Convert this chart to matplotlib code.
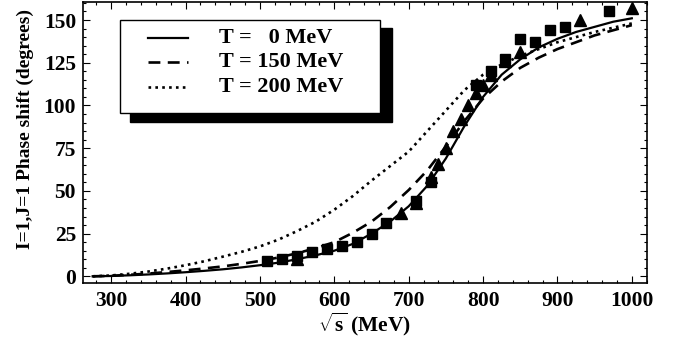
import matplotlib
matplotlib.use("Agg")
import matplotlib.pyplot as plt
from matplotlib.patches import Rectangle
from matplotlib.ticker import MultipleLocator

plt.rcParams["font.family"] = ["Liberation Serif", "DejaVu Serif"]
plt.rcParams["font.weight"] = "bold"
plt.rcParams["mathtext.fontset"] = "custom"
plt.rcParams["mathtext.rm"] = "Liberation Serif:bold"
plt.rcParams["mathtext.it"] = "Liberation Serif:bold"
plt.rcParams["mathtext.bf"] = "Liberation Serif:bold"

# theory curves (sqrt(s) in MeV, phase shift in degrees)
energy = [275, 300, 325, 350, 375, 400, 425, 450, 475, 500, 525, 550, 575, 600, 625,
          650, 675, 700, 725, 750, 775, 800, 825, 850, 875, 900, 925, 950, 975, 1000]
delta_t0 = [0, 0.2, 0.6, 1.1, 1.7, 2.4, 3.2, 4.1, 5.2, 6.5, 8, 10, 12.3, 15, 19,
            25, 32, 41, 53, 69, 88, 105, 118, 127, 134, 139, 143, 146, 149, 151]
delta_t150 = [0, 0.3, 0.9, 1.6, 2.5, 3.5, 4.6, 5.8, 7.3, 9, 11, 13.5, 16.5, 20, 25.5,
              32, 40.5, 50.5, 62, 76, 91, 104, 114, 122, 128, 133, 137, 141, 144, 147]
delta_t200 = [0, 0.5, 1.5, 2.8, 4.5, 6.5, 8.8, 11.5, 14.3, 17.5, 21.5, 26.5, 32, 39, 47,
              56, 64.5, 73, 85, 97, 109, 118, 124, 129, 133, 137, 140, 143, 145.5, 148]

# experimental points
sq_x = [510, 530, 550, 570, 590, 610, 630, 650, 670, 710, 730, 790, 810, 830,
        850, 870, 890, 910, 970]
sq_y = [9, 10, 12, 14, 16, 18, 20, 25, 31, 44, 55, 112, 120, 127,
        139, 137, 144, 146, 155]
tri_x = [550, 690, 710, 730, 740, 750, 760, 770, 780, 790, 800, 810, 830, 850,
         930, 1000]
tri_y = [10, 37, 43, 58, 66, 75, 85, 92, 100, 107, 112, 118, 126, 131,
         150, 157]

legend_labels = ["T =   0 MeV", "T = 150 MeV", "T = 200 MeV"]

fig = plt.figure(figsize=(6.8, 3.47), dpi=100)
ax = fig.add_axes([0.122, 0.184, 0.829, 0.81])

styles = [("-", 1.6), ((0, (4.5, 2.8)), 1.9), ((0, (1, 1.6)), 1.9)]
curves = [delta_t0, delta_t150, delta_t200]
for yv, (ls, lw) in zip(curves, styles):
    ax.plot(energy, yv, color="black", lw=lw, ls=ls)
ax.plot(sq_x, sq_y, "s", color="black", ms=7.5, zorder=3)
ax.plot(tri_x, tri_y, "^", color="black", ms=9, zorder=3)

ax.set_xlim(262, 1020)
ax.set_ylim(-4, 160.5)
ax.xaxis.set_major_locator(MultipleLocator(100))
ax.xaxis.set_minor_locator(MultipleLocator(20))
ax.yaxis.set_major_locator(MultipleLocator(25))
ax.yaxis.set_minor_locator(MultipleLocator(5))
ax.tick_params(which="both", direction="in", top=True, right=True, width=0.8)
ax.tick_params(which="major", length=5, labelsize=15.5)
ax.tick_params(which="minor", length=2.5)
ax.tick_params(axis="x", pad=6)
ax.tick_params(axis="y", pad=5)
for s in ax.spines.values():
    s.set_linewidth(1.2)
for lab in ax.get_xticklabels() + ax.get_yticklabels():
    lab.set_fontweight("bold")

ax.set_xlabel(r"$\sqrt{\mathrm{s}}$ (MeV)", fontsize=15.5, fontweight="bold")
ax.set_ylabel("I=1,J=1 Phase shift (degrees)", fontsize=14, fontweight="bold")
ax.xaxis.set_label_coords(0.5, -0.145)
ax.xaxis.label.set_verticalalignment("center")
ax.yaxis.set_label_coords(-0.103, 0.55)
ax.yaxis.label.set_verticalalignment("center")

# legend box with solid offset shadow
ax.add_patch(Rectangle((0.083, 0.573), 0.465, 0.334, transform=ax.transAxes,
                       facecolor="black", edgecolor="black", zorder=4))
ax.add_patch(Rectangle((0.066, 0.605), 0.461, 0.331, transform=ax.transAxes,
                       facecolor="white", edgecolor="black", lw=1.0, zorder=5))
rows = [0.872, 0.786, 0.698]
for (ls, lw), lab, yy in zip(styles, legend_labels, rows):
    ax.plot([0.115, 0.186], [yy, yy], transform=ax.transAxes, color="black",
            lw=lw, ls=ls, zorder=6)
    ax.text(0.241, yy, lab, transform=ax.transAxes, fontsize=16, fontweight="bold",
            va="center", ha="left", zorder=6)

fig.savefig("out.png", dpi=100)
